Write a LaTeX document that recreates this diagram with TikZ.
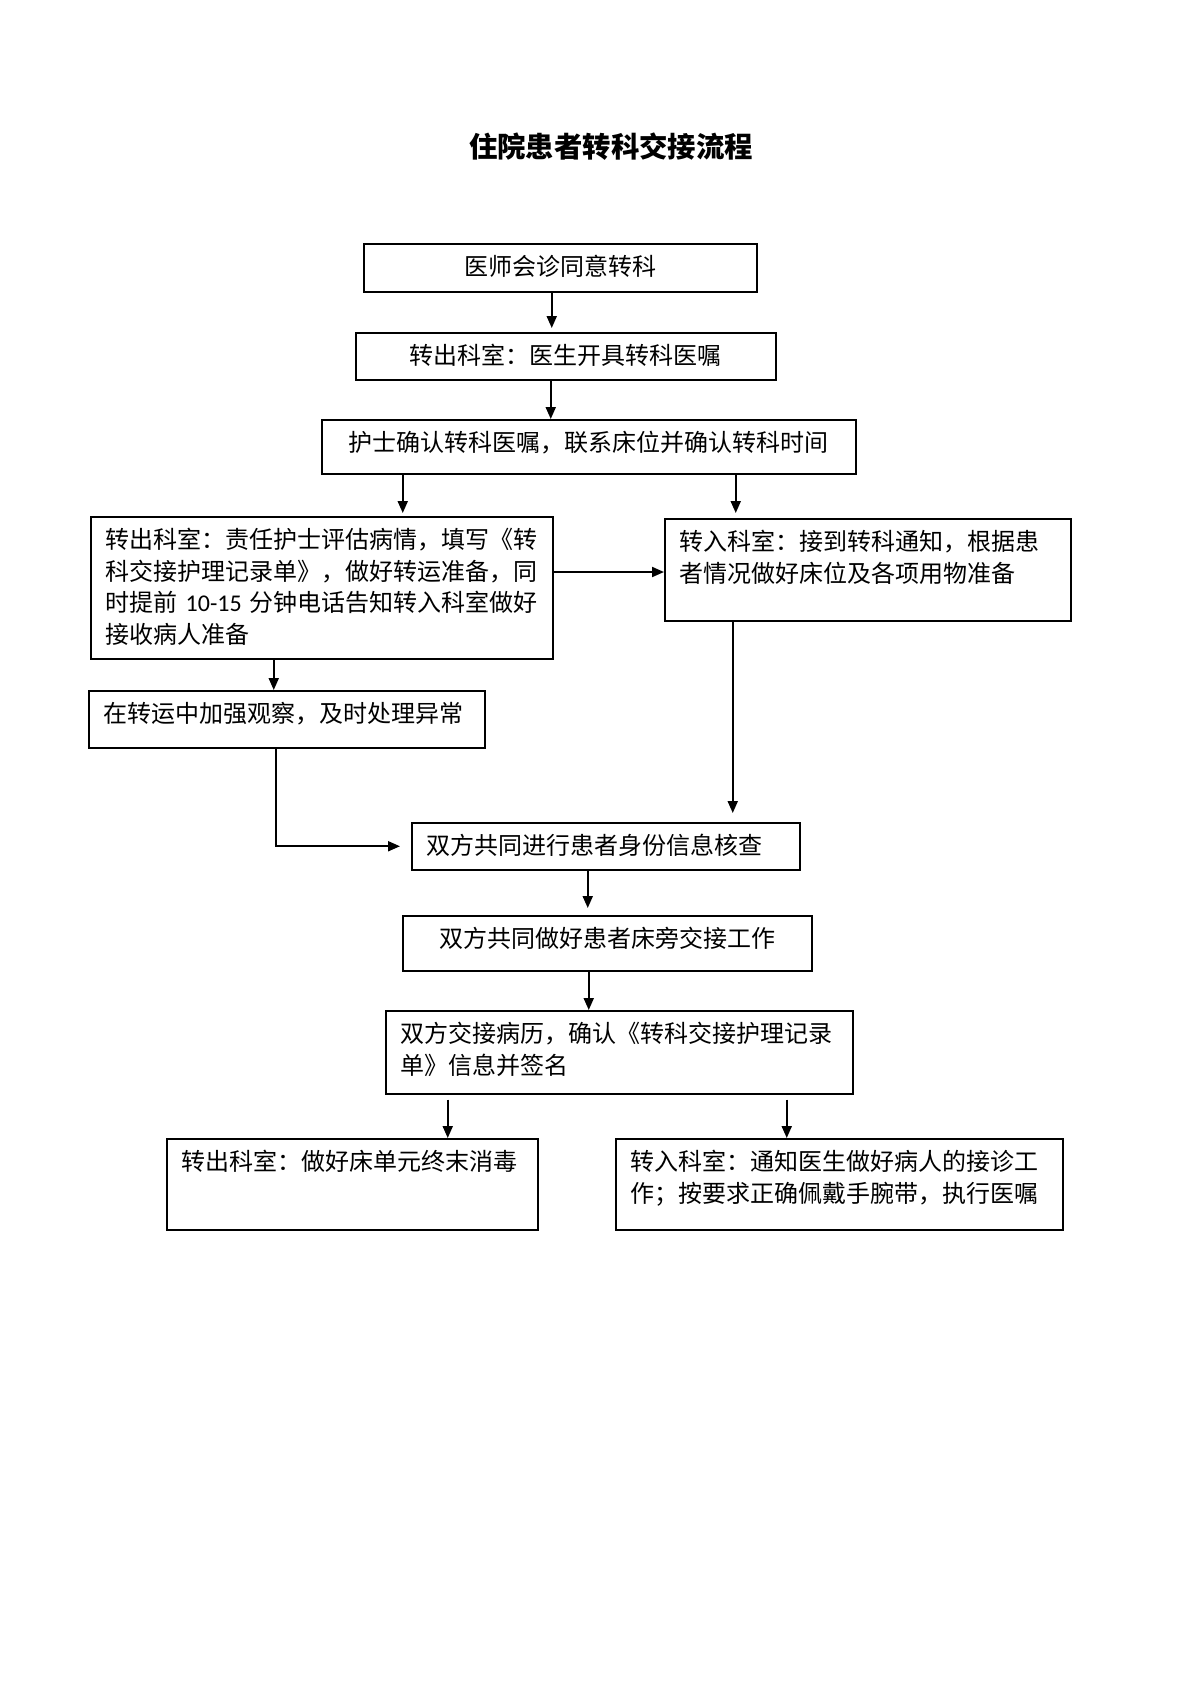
\documentclass[tikz,border=0pt]{standalone}
\usepackage{fontspec}
\setmainfont{Carlito}
\newfontfamily\cjkfont{Noto Sans CJK SC}
\usetikzlibrary{arrows.meta,calc}

\tikzset{
  flowbox/.style={draw, line width=0.75pt, anchor=north west, align=left,
    inner xsep=7.5pt, inner ysep=6pt, text height=10pt,
    font=\cjkfont\fontsize{12}{15.75}\selectfont},
  flowarrow/.style={line width=1pt, -{Triangle[length=6pt,width=5pt]}}
}

\begin{document}
\begin{tikzpicture}[x=0.5pt,y=-0.5pt]
\useasboundingbox (0,0) rectangle (1204,1704);

% Title
\node[font=\cjkfont\bfseries\fontsize{14.2}{18}\selectfont] (title) at (611,147) {住院患者转科交接流程};

% Boxes
\node[flowbox, align=center, text width=181.5pt, text depth=2pt] (consult) at (363,243) {医师会诊同意转科};
\node[flowbox, align=center, text width=195pt, text depth=1.5pt] (order) at (355,332) {转出科室：医生开具转科医嘱};
\node[flowbox, align=center, text width=252pt, text depth=5pt] (confirm) at (321,419) {护士确认转科医嘱，联系床位并确认转科时间};
\node[flowbox, text width=216pt, text depth=49pt] (outprep) at (90,516) {转出科室：责任护士评估病情，填写《转\\科交接护理记录单》，做好转运准备，同\\\mbox{时提前 {\rmfamily 10-15} 分钟电话告知转入科室做好}\\接收病人准备};
\node[flowbox, text width=188pt, text depth=29pt] (inprep) at (664,518) {转入科室：接到转科通知，根据患\\者情况做好床位及各项用物准备};
\node[flowbox, text width=183pt, text depth=6.5pt] (transit) at (88,690) {在转运中加强观察，及时处理异常};
\node[flowbox, text width=179pt, text depth=1.5pt] (identity) at (411,822) {双方共同进行患者身份信息核查};
\node[flowbox, align=center, text width=189.5pt, text depth=5.5pt] (bedside) at (402,915) {双方共同做好患者床旁交接工作};
\node[flowbox, text width=218.5pt, text depth=19.5pt] (records) at (385,1010) {双方交接病历，确认《转科交接护理记录\\单》信息并签名};
\node[flowbox, text width=170.5pt, text depth=23.5pt] (outclean) at (166,1138) {转出科室：做好床单元终末消毒};
\node[flowbox, text width=208.5pt, text depth=23.5pt] (inreceive) at (615,1138) {转入科室：通知医生做好病人的接诊工\\作；按要求正确佩戴手腕带，执行医嘱};

% Connector start points
\coordinate (p1) at ($(consult.south)+(-8.5,0)$);
\coordinate (p2) at ($(order.south)+(-15,0)$);
\coordinate (p3) at ($(confirm.south)+(-186,0)$);
\coordinate (p4) at ($(confirm.south)+(147,0)$);
\coordinate (p5) at ($(outprep.north east)+(0,56)$);
\coordinate (p6) at ($(outprep.south)+(-48,0)$);
\coordinate (p7) at ($(transit.south)+(-11,0)$);
\coordinate (p8) at ($(inprep.south)+(-135,0)$);
\coordinate (p9) at ($(identity.south)+(-18,0)$);
\coordinate (p10) at ($(bedside.south)+(-18.5,0)$);
\coordinate (p11) at ($(records.south)+(-171.5,0)$);
\coordinate (p12) at ($(records.south)+(167.5,0)$);

% Connectors
\draw[flowarrow, shorten >=2pt] (p1) -- (p1 |- order.north);
\draw[flowarrow] (p2) -- (p2 |- confirm.north);
\draw[flowarrow, shorten >=1.5pt] (p3) -- (p3 |- outprep.north);
\draw[flowarrow, shorten >=2.5pt] (p4) -- (p4 |- inprep.north);
\draw[flowarrow] (p5) -- (p5 -| inprep.west);
\draw[flowarrow] (p6) -- (p6 |- transit.north);
\draw[flowarrow, shorten >=5.5pt] (p7) |- (identity.west);
\draw[flowarrow, shorten >=4.5pt] (p8) -- (p8 |- identity.north);
\draw[flowarrow, shorten >=3.5pt] (p9) -- (p9 |- bedside.north);
\draw[flowarrow] (p10) -- (p10 |- records.north);
\draw[flowarrow, shorten <=2.5pt] (p11) -- (p11 |- outclean.north);
\draw[flowarrow, shorten <=2.5pt] (p12) -- (p12 |- inreceive.north);

\end{tikzpicture}
\end{document}
